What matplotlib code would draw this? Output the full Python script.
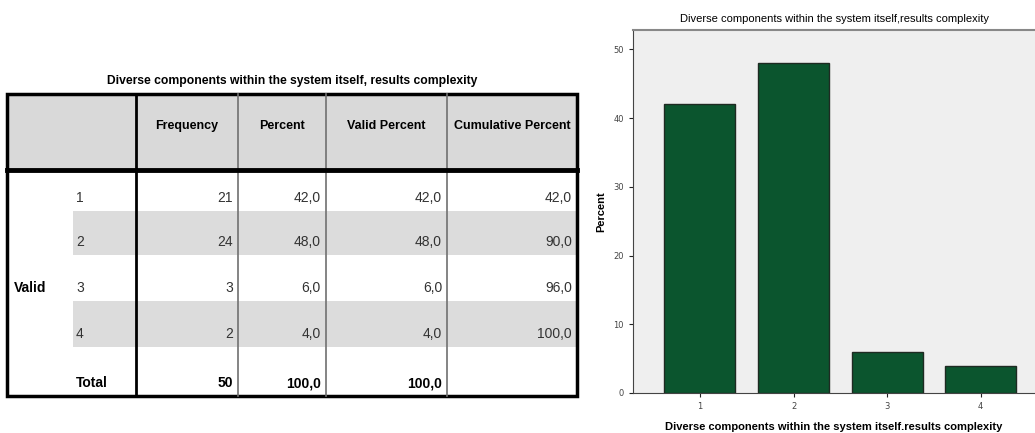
import matplotlib
matplotlib.use("Agg")
import matplotlib.pyplot as plt
from matplotlib.patches import Rectangle

# frequency table data
title = "Diverse components within the system itself, results complexity"
headers = ["Frequency", "Percent", "Valid Percent", "Cumulative Percent"]
row_labels = ["1", "2", "3", "4", "Total"]
frequency = ["21", "24", "3", "2", "50"]
percent = ["42,0", "48,0", "6,0", "4,0", "100,0"]
valid_percent = ["42,0", "48,0", "6,0", "4,0", "100,0"]
cumulative = ["42,0", "90,0", "96,0", "100,0", ""]

# bar chart data
categories = [1, 2, 3, 4]
percent_values = [42.0, 48.0, 6.0, 4.0]
y_ticks = [0, 10, 20, 30, 40, 50]

FONT = ["Liberation Sans", "DejaVu Sans"]
BAR_COLOR = "#0b552e"

fig = plt.figure(figsize=(10.35, 4.33), dpi=100)

# table drawn in pixel coordinates
tab = fig.add_axes([0, 0, 1, 1])
tab.set_xlim(0, 1035)
tab.set_ylim(433, 0)
tab.axis("off")

left, right = 7, 577
top, head_bot = 94, 170
col_x = [136, 238, 326, 447, 577]
row_y = [172, 211, 255, 301, 347, 396]

# backgrounds
tab.add_patch(Rectangle((left, top), right - left, head_bot - top, color="#d9d9d9", lw=0))
for i in (1, 3):
    tab.add_patch(Rectangle((73, row_y[i]), right - 73, row_y[i + 1] - row_y[i],
                            color="#dcdcdc", lw=0))

# grid lines
for x in col_x[1:-1]:
    tab.plot([x, x], [top, row_y[-1]], color="#707070", lw=1.2)
tab.plot([col_x[0], col_x[0]], [top, row_y[-1]], color="black", lw=2)
tab.plot([left, right], [head_bot, head_bot], color="black", lw=3.5)
tab.add_patch(Rectangle((left, top), right - left, row_y[-1] - top, fill=False,
                        ec="black", lw=2.5))

tab.text((left + right) / 2, 81, title, ha="center", va="center", fontsize=8.7,
         fontweight="bold", family=FONT)

for j, h in enumerate(headers):
    tab.text((col_x[j] + col_x[j + 1]) / 2, 126, h, ha="center", va="center",
             fontsize=9, fontweight="bold", family=FONT)

tab.text(14, 288, "Valid", ha="left", va="center", fontsize=10,
         fontweight="bold", family=FONT)

columns = [frequency, percent, valid_percent, cumulative]
for i, lab in enumerate(row_labels):
    yc = row_y[i + 1] - 13
    bold = "bold" if lab == "Total" else "normal"
    color = "black" if lab == "Total" else "#333333"
    tab.text(76, yc, lab, ha="left", va="center", fontsize=10,
             fontweight=bold, color=color, family=FONT)
    for j, col in enumerate(columns):
        tab.text(col_x[j + 1] - 5, yc, col[i], ha="right", va="center",
                 fontsize=10, fontweight=bold, color=color, family=FONT)

# bar chart
ax = fig.add_axes([633 / 1035, 1 - 393 / 433, 1 - 633 / 1035, (393 - 30) / 433])
ax.set_facecolor("#efefef")
ax.bar(categories, percent_values, width=0.76, color=BAR_COLOR,
       edgecolor="#1e2a22", linewidth=1)
ax.set_xlim(0.285, 4.58)
ax.set_ylim(0, 52.8)
ax.set_xticks(categories)
ax.set_yticks(y_ticks)
ax.tick_params(axis="both", labelsize=6, length=3, width=0.8, colors="#222222",
               labelcolor="#444444")
for s in ("left", "bottom"):
    ax.spines[s].set_color("#444444")
ax.spines["top"].set_color("#888888")
ax.spines["top"].set_linewidth(1.5)
ax.spines["right"].set_visible(False)
ax.set_ylabel("Percent", fontsize=8, fontweight="bold", labelpad=5, family=FONT)
ax.set_xlabel("Diverse components within the system itself.results complexity",
              fontsize=8, fontweight="bold", labelpad=8, family=FONT)
ax.set_title("Diverse components within the system itself,results complexity",
             fontsize=8, pad=6, family=FONT)

fig.savefig("out.png", dpi=100)
